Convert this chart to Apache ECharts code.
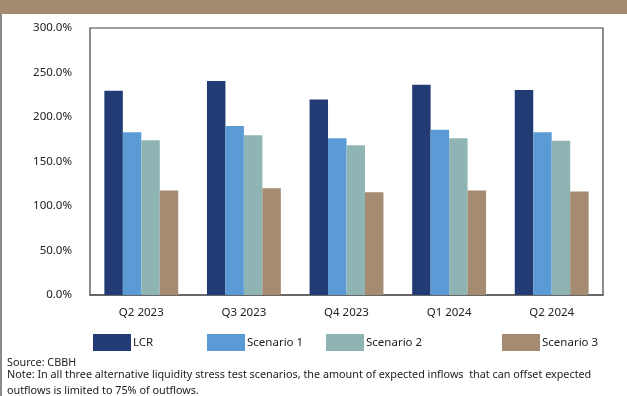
<!DOCTYPE html>
<html>
<head>
<meta charset="utf-8">
<script src="https://cdn.jsdelivr.net/npm/echarts@6/dist/echarts.min.js"></script>
<style>
html,body{margin:0;padding:0;background:#fff;}
#c{width:627px;height:396px;}
</style>
</head>
<body>
<div id="c"></div>
<script>
const categories = ['Q2 2023','Q3 2023','Q4 2023','Q1 2024','Q2 2024'];
const lcr        = [229.5, 240.4, 219.6, 236.2, 230.2];
const scenario1  = [183.0, 189.8, 176.2, 185.7, 183.0];
const scenario2  = [174.0, 179.6, 168.3, 176.2, 173.2];
const scenario3  = [117.4, 120.0, 115.5, 117.4, 116.3];
const seriesNames = ['LCR','Scenario 1','Scenario 2','Scenario 3'];
const colors = ['#223B74','#5B9BD5','#8FB4B4','#A48B72'];
const FONT = 'Noto Sans';

const chart = echarts.init(document.getElementById('c'), null, {renderer:'canvas'});
const values = [lcr, scenario1, scenario2, scenario3];
const legendLeft = [93, 207, 326, 502];

chart.setOption({
  animation:false,
  textStyle:{fontFamily:FONT},
  grid:{left:90, right:24, top:28, bottom:101, show:true, borderColor:'#404040', borderWidth:1.2, containLabel:false},
  legend: seriesNames.map((n,i)=>({
    data:[n], left:legendLeft[i], top:334, padding:0, itemWidth:38, itemHeight:17, itemGap:0,
    icon:'rect', textStyle:{fontFamily:FONT, fontSize:11.5, color:'#222', padding:[0,0,0,-3]},
    selectedMode:false
  })),
  xAxis:{
    type:'category', data:categories,
    axisLine:{show:true, lineStyle:{color:'#555', width:1.5}},
    axisTick:{show:false},
    axisLabel:{fontFamily:FONT, fontSize:11.5, color:'#222', margin:12}
  },
  yAxis:{
    type:'value', min:0, max:300, interval:50,
    splitLine:{show:false},
    axisLine:{show:false}, axisTick:{show:false},
    axisLabel:{fontFamily:FONT, fontSize:11.5, color:'#222', margin:18,
      formatter:v=>v.toFixed(1)+'%'}
  },
  series: values.map((d,i)=>({
    name:seriesNames[i], type:'bar', data:d,
    barGap:'0%', barCategoryGap:'28%',
    itemStyle:{color:colors[i]}
  })),
  graphic:[
    {type:'rect', left:0, top:0, shape:{width:627, height:14}, style:{fill:'#A38B71'}, silent:true},
    {type:'rect', left:0, top:14, shape:{width:2, height:382}, style:{fill:'#8a8a8a'}, silent:true},
    {type:'text', left:7, top:357, style:{text:'Source: CBBH', font:'10.8px "Noto Sans"', fill:'#222'}},
    {type:'text', left:7, top:369, style:{text:'Note: In all three alternative liquidity stress test scenarios, the amount of expected inflows  that can offset expected', font:'10.8px "Noto Sans"', fill:'#222'}},
    {type:'text', left:7, top:385, style:{text:'outflows is limited to 75% of outflows.', font:'10.8px "Noto Sans"', fill:'#222'}}
  ]
});
</script>
</body>
</html>
